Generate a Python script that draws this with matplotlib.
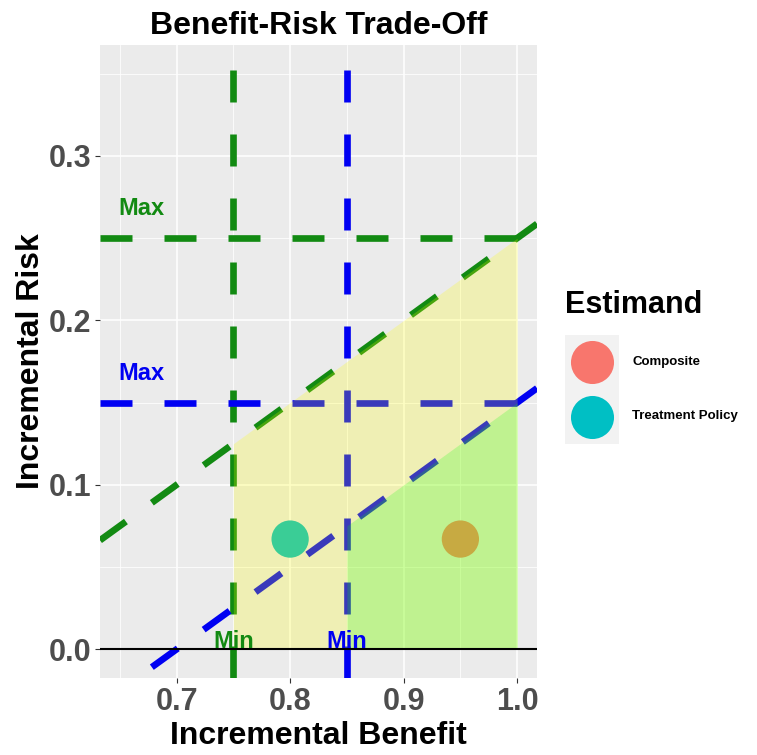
import matplotlib
matplotlib.use('Agg')
import matplotlib.pyplot as plt
from matplotlib.lines import Line2D
from matplotlib.patches import Rectangle
import numpy as np

plt.rcParams['font.family'] = ['Liberation Sans', 'DejaVu Sans']
plt.rcParams['font.weight'] = 'bold'

# points
estimands = ['Composite', 'Treatment Policy']
benefit = [0.95, 0.80]
risk = [0.067, 0.067]
point_colors = ['#F8766D', '#00BFC4']

# thresholds per decision rule (green / blue)
rule_colors = ['#128A12', '#0000F2']
min_benefit = [0.75, 0.85]
max_risk = [0.25, 0.15]
# trade-off lines: risk = slope * benefit + intercept
slopes = [0.5, 0.5]
intercepts = [-0.25, -0.35]
region_colors = ['#FFFF00', '#00FF00']
region_alpha = [0.23, 0.2]
benefit_cap = 1.0

x_limits = (0.6325, 1.0175)
y_limits = (-0.0175, 0.3675)
x_ticks = [0.7, 0.8, 0.9, 1.0]
y_ticks = [0.0, 0.1, 0.2, 0.3]


class KeyHandler:
    # ggplot-like key: grey square with a centred dot
    def legend_artist(self, legend, orig_handle, fontsize, handlebox):
        xd, yd = handlebox.xdescent, handlebox.ydescent
        w, h = handlebox.width, handlebox.height
        rect = Rectangle((-xd, -yd), w, h, facecolor='#F2F2F2', edgecolor='none',
                         transform=handlebox.get_transform())
        dot = Line2D([-xd + w / 2], [-yd + h / 2], ls='none', marker='o', markersize=31,
                     markerfacecolor=orig_handle.get_markerfacecolor(), markeredgecolor='none',
                     transform=handlebox.get_transform())
        handlebox.add_artist(rect)
        handlebox.add_artist(dot)
        return rect


W, H = 757, 755
fig = plt.figure(figsize=(W / 100, H / 100), dpi=100)
ax = fig.add_axes([100 / W, 1 - 678 / H, 437 / W, 633 / H])
ax.set_facecolor('#EBEBEB')
for s in ax.spines.values():
    s.set_visible(False)
ax.set_xlim(x_limits)
ax.set_ylim(y_limits)
ax.set_xticks(x_ticks)
ax.set_yticks(y_ticks)
ax.set_xticks([0.65, 0.75, 0.85, 0.95], minor=True)
ax.set_yticks([0.05, 0.15, 0.25, 0.35], minor=True)
ax.set_xticklabels([f'{v:.1f}' for v in x_ticks])
ax.set_yticklabels([f'{v:.1f}' for v in y_ticks])
ax.grid(which='major', color='white', lw=1.1)
ax.grid(which='minor', color='white', lw=0.55)
ax.set_axisbelow(True)
ax.tick_params(which='major', length=3.5, width=0.8, color='#333333',
               labelsize=22, labelcolor='#4D4D4D', pad=3)
ax.tick_params(which='minor', length=0)

dash = dict(lw=4.8, dashes=(4.8, 4.8), solid_capstyle='butt', dash_capstyle='butt', zorder=2)
for c, xb, yr, m, b in zip(rule_colors, min_benefit, max_risk, slopes, intercepts):
    ax.axvline(xb, color=c, **dash)
    ax.axhline(yr, color=c, **dash)
    xs = np.array(x_limits)
    ax.plot(xs, m * xs + b, color=c, **dash)

ax.scatter(benefit, risk, s=720, c=point_colors, edgecolors='none', zorder=3)

for xb, yr, m, b, fc, a in zip(min_benefit, max_risk, slopes, intercepts, region_colors, region_alpha):
    xs = np.array([xb, benefit_cap])
    ax.fill_between(xs, 0, np.minimum(m * xs + b, yr), color=fc, alpha=a, lw=0, zorder=4)

ax.axhline(0, color='black', lw=1.5, zorder=5)

for c, xb, yr in zip(rule_colors, min_benefit, max_risk):
    ax.text(0.669, yr + 0.018, 'Max', color=c, fontsize=17, ha='center', va='center', zorder=6)
    ax.text(xb, 0.001, 'Min', color=c, fontsize=17, ha='center', va='baseline', zorder=6)

ax.set_title('Benefit-Risk Trade-Off', fontsize=23, fontweight='bold', pad=8)
ax.set_xlabel('Incremental Benefit', fontsize=23, fontweight='bold', labelpad=3)
ax.set_ylabel('Incremental Risk', fontsize=23, fontweight='bold', labelpad=2)

handles = [Line2D([], [], ls='none', marker='o', markerfacecolor=c) for c in point_colors]
leg = ax.legend(handles, estimands, handler_map={Line2D: KeyHandler()},
                title='Estimand', loc='upper left', bbox_to_anchor=(565 / W, 1 - 290 / H),
                bbox_transform=fig.transFigure, frameon=False, fontsize=9.5,
                handlelength=4.1, handleheight=5.94, labelspacing=0, handletextpad=1.0,
                borderpad=0, borderaxespad=0, alignment='left',
                title_fontproperties={'size': 22, 'weight': 'bold'})
leg._legend_box.sep = 11

fig.savefig('out.png', dpi=100)
